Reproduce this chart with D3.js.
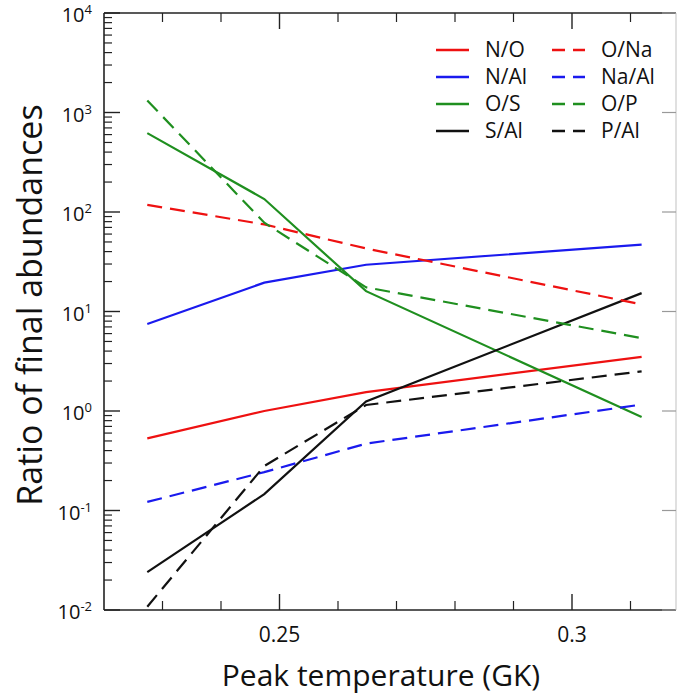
<!DOCTYPE html>
<html>
<head>
<meta charset="utf-8">
<script src="https://cdn.jsdelivr.net/npm/d3@7"></script>
<style>
  html, body { margin: 0; padding: 0; background: #fff; }
  svg { display: block; font-family: "Open Sans", "DejaVu Sans", sans-serif; }
</style>
</head>
<body>
<svg id="chart" width="678" height="698"></svg>
<script>
// ---- data ----
const temperatures = [0.2274, 0.2474, 0.2648, 0.3119];
const seriesNames = ["N/O", "N/Al", "O/S", "S/Al", "O/Na", "Na/Al", "O/P", "P/Al"];
const N_O   = [0.53, 1.0, 1.55, 3.5];
const N_Al  = [7.5, 19.5, 29.5, 47];
const O_S   = [620, 135, 16, 0.87];
const S_Al  = [0.024, 0.146, 1.25, 15.3];
const O_Na  = [118, 75, 43, 11.8];
const Na_Al = [0.122, 0.243, 0.47, 1.16];
const O_P   = [1320, 78, 17.5, 5.4];
const P_Al  = [0.0108, 0.28, 1.15, 2.5];
const seriesValues = [N_O, N_Al, O_S, S_Al, O_Na, Na_Al, O_P, P_Al];
const xMajorTicks = [0.25, 0.3];
const xMinorTicks = [0.23, 0.24, 0.26, 0.27, 0.28, 0.29, 0.31];
const yDecades = [-2, -1, 0, 1, 2, 3, 4];
const xTitle = "Peak temperature (GK)";
const yTitle = "Ratio of final abundances";

// ---- styles ----
const colors = ["#ee1111", "#1a1aee", "#1f8f1f", "#111111", "#ee1111", "#1a1aee", "#1f8f1f", "#111111"];
const dashed = [false, false, false, false, true, true, true, true];

const svg = d3.select("#chart");
const L = 104, R = 676, T = 13, B = 610;

const x = d3.scaleLinear().domain([0.22, 0.22 + (R - L) / 5850]).range([L, R]);
const y = d3.scaleLog().domain([1e-2, 1e4]).range([B, T]);

// frame
const g = svg.append("g");
g.append("line").attr("x1", L).attr("x2", L).attr("y1", T).attr("y2", B).attr("stroke", "#222").attr("stroke-width", 1.6);
g.append("line").attr("x1", L).attr("x2", R).attr("y1", B).attr("y2", B).attr("stroke", "#222").attr("stroke-width", 1.6);
g.append("line").attr("x1", L).attr("x2", R).attr("y1", T).attr("y2", T).attr("stroke", "#222").attr("stroke-width", 1.6);
g.append("line").attr("x1", R).attr("x2", R).attr("y1", T).attr("y2", B).attr("stroke", "#ccc").attr("stroke-width", 1.2);

// y ticks (inward)
const yMinor = [];
yDecades.slice(0, -1).forEach(d => { for (let k = 2; k <= 9; k++) yMinor.push(k * Math.pow(10, d)); });
yDecades.forEach(d => {
  const yy = y(Math.pow(10, d));
  g.append("line").attr("x1", L).attr("x2", L + 16).attr("y1", yy).attr("y2", yy).attr("stroke", "#222").attr("stroke-width", 1.4);
  g.append("line").attr("x1", R).attr("x2", R - 14).attr("y1", yy).attr("y2", yy).attr("stroke", "#999").attr("stroke-width", 1.2);
  const t = g.append("text").attr("x", 92).attr("y", yy + 9).attr("text-anchor", "end").attr("font-size", 20).attr("fill", "#111");
  t.append("tspan").text("10");
  t.append("tspan").attr("dy", -8).attr("font-size", 13).text(String(d));
});
yMinor.forEach(v => {
  const yy = y(v);
  g.append("line").attr("x1", L).attr("x2", L + 8).attr("y1", yy).attr("y2", yy).attr("stroke", "#222").attr("stroke-width", 1.2);
});

// x ticks (inward, bottom and top)
xMajorTicks.forEach(v => {
  const xx = x(v);
  g.append("line").attr("x1", xx).attr("x2", xx).attr("y1", B).attr("y2", B - 16).attr("stroke", "#222").attr("stroke-width", 1.4);
  g.append("line").attr("x1", xx).attr("x2", xx).attr("y1", T).attr("y2", T + 16).attr("stroke", "#222").attr("stroke-width", 1.4);
  g.append("text").attr("x", xx).attr("y", 642).attr("text-anchor", "middle").attr("font-size", 21).attr("fill", "#111").text(String(v));
});
xMinorTicks.forEach(v => {
  const xx = x(v);
  g.append("line").attr("x1", xx).attr("x2", xx).attr("y1", B).attr("y2", B - 9).attr("stroke", "#222").attr("stroke-width", 1.2);
  g.append("line").attr("x1", xx).attr("x2", xx).attr("y1", T).attr("y2", T + 9).attr("stroke", "#222").attr("stroke-width", 1.2);
});

// titles
svg.append("text").attr("x", 381).attr("y", 686).attr("text-anchor", "middle").attr("font-size", 30).attr("fill", "#111").text(xTitle);
svg.append("text").attr("transform", "translate(42,305) rotate(-90)").attr("text-anchor", "middle").attr("font-size", 34).attr("fill", "#111").text(yTitle);

// lines
const line = d3.line().x((d, i) => x(temperatures[i])).y(d => y(d));
seriesValues.forEach((vals, i) => {
  svg.append("path").datum(vals).attr("d", line).attr("fill", "none")
    .attr("stroke", colors[i]).attr("stroke-width", 2.2)
    .attr("stroke-dasharray", dashed[i] ? "15,8" : null);
});

// legend
const legendRows = [50, 77, 104, 131];
seriesNames.forEach((name, i) => {
  const col = Math.floor(i / 4), row = i % 4;
  const lx = col === 0 ? 436 : 552;
  const tx = col === 0 ? 485 : 601;
  const ly = legendRows[row];
  svg.append("line").attr("x1", lx).attr("x2", lx + 33).attr("y1", ly).attr("y2", ly)
    .attr("stroke", colors[i]).attr("stroke-width", 2.4)
    .attr("stroke-dasharray", dashed[i] ? "13,8" : null);
  svg.append("text").attr("x", tx).attr("y", ly + 7).attr("font-size", 21).attr("fill", "#111").text(name);
});
</script>
</body>
</html>
